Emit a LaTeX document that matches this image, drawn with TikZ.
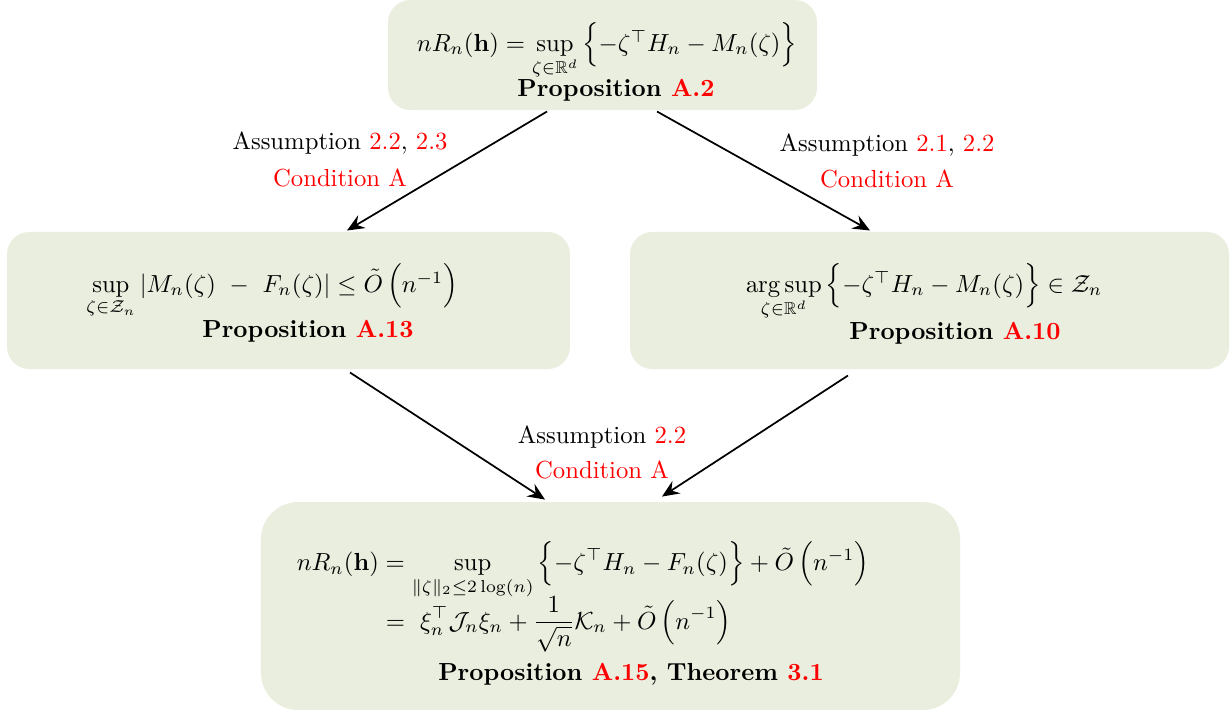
\documentclass[tikz,border=0pt]{standalone}
\usepackage{amsmath,amssymb}
\usetikzlibrary{arrows.meta,calc}
\definecolor{boxfill}{RGB}{234,238,222}
\begin{document}
\begin{tikzpicture}[x=0.405pt,y=-0.405pt,
  box/.style={fill=boxfill, rounded corners=9pt, inner sep=0pt, draw=none},
  conn/.style={-{Stealth[length=7pt,width=6pt,inset=2.5pt]}, line width=0.7pt},
  txt/.style={inner sep=0pt, anchor=base},
  red/.style={text=red}]
\useasboundingbox (0,0) rectangle (1232,713);
% boxes
\node[box, minimum width=173.7pt, minimum height=44.55pt] (top) at (602.5,55) {};
\node[box, minimum width=228.0pt, minimum height=55.5pt] (left) at (288.5,300.5) {};
\node[box, minimum width=242.6pt, minimum height=55.5pt] (right) at (929.5,300.5) {};
\node[box, rounded corners=15pt, minimum width=283.1pt, minimum height=84.2pt] (bottom) at (610.5,606) {};
% texts in boxes
\node[txt] (topf) at (607,51) {$nR_n(\mathbf{h}) = \sup\limits_{\zeta\in\mathbb{R}^d}\,\Bigl\{-\zeta^\top H_n - M_n(\zeta)\Bigr\}$};
\node[txt] (topp) at (616,96) {\bfseries Proposition \textcolor{red}{A.2}};
\node[txt] (leftf) at (272,292) {$\sup\limits_{\zeta\in\mathcal{Z}_n}\left|M_n(\zeta)\ -\ F_n(\zeta)\right| \le \tilde{O}\,\Bigl(n^{-1}\Bigr)$};
\node[txt] (leftp) at (308,337) {\bfseries Proposition \textcolor{red}{A.13}};
\node[txt] (rightf) at (924,292) {$\operatorname*{arg\,sup}\limits_{\zeta\in\mathbb{R}^d}\,\Bigl\{-\zeta^\top H_n - M_n(\zeta)\Bigr\} \in \mathcal{Z}_n$};
\node[txt] (rightp) at (955,339) {\bfseries Proposition \textcolor{red}{A.10}};
\node[inner sep=0pt] (botf) at (583,597) {$\begin{aligned}
nR_n(\mathbf{h}) &= \sup_{\|\zeta\|_2\le 2\log(n)}\,\Bigl\{-\zeta^\top H_n - F_n(\zeta)\Bigr\} + \tilde{O}\,\Bigl(n^{-1}\Bigr)\\[-5pt]
&=\ \xi_n^\top \mathcal{J}_n\xi_n + \frac{1}{\sqrt{n}}\mathcal{K}_n + \tilde{O}\,\Bigl(n^{-1}\Bigr)
\end{aligned}$};
\node[txt] (botp) at (631,680) {\bfseries Proposition \textcolor{red}{A.15}, Theorem \textcolor{red}{3.1}};
% connector labels
\node[txt] (l1a) at (340,149) {Assumption \textcolor{red}{2.2}, \textcolor{red}{2.3}};
\node[txt, red] (l1b) at (340,186) {Condition A};
\node[txt] (l2a) at (887,151) {Assumption \textcolor{red}{2.1}, \textcolor{red}{2.2}};
\node[txt, red] (l2b) at (887,187) {Condition A};
\node[txt] (l3a) at (602,443) {Assumption \textcolor{red}{2.2}};
\node[txt, red] (l3b) at (602,478) {Condition A};
% connectors
\draw[conn] ($(top.south)+(-55.5,1)$) -- ($(left.north)+(58.5,-1)$);
\draw[conn] ($(top.south)+(54.5,1)$) -- ($(right.north)+(-59.5,-1)$);
\draw[conn] ($(left.south)+(61.5,3)$) -- ($(bottom.north)+(-65.5,-2)$);
\draw[conn] ($(right.south)+(-81.5,6)$) -- ($(bottom.north)+(51.5,-5)$);
\end{tikzpicture}
\end{document}
